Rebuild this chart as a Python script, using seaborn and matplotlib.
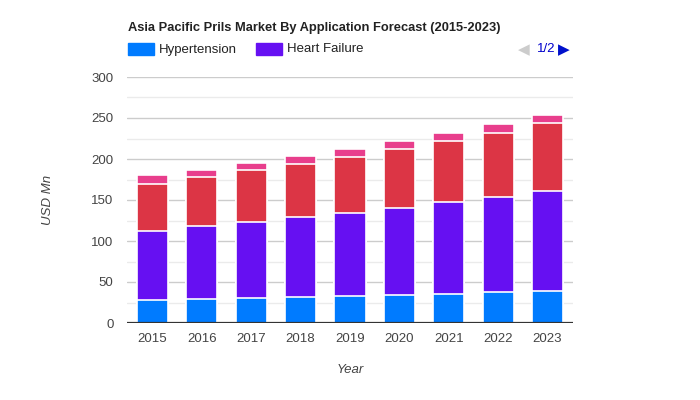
import matplotlib
matplotlib.use("Agg")
import matplotlib.pyplot as plt
import seaborn as sns
import pandas as pd
import numpy as np
from matplotlib.patches import Rectangle

years = ["2015", "2016", "2017", "2018", "2019", "2020", "2021", "2022", "2023"]
hypertension = [28.0, 29.0, 30.1, 31.3, 32.5, 33.8, 35.0, 37.4, 38.7]
heart_failure = [84.0, 89.0, 92.7, 97.6, 101.3, 106.0, 112.0, 115.9, 121.9]
series3 = [57.2, 59.8, 63.4, 64.4, 68.2, 72.0, 74.6, 79.0, 82.9]
series4 = [10.7, 9.3, 9.3, 10.7, 10.6, 10.5, 10.5, 10.7, 10.5]

series_names = ["Hypertension", "Heart Failure", "Arrhythmia", "Others"]
series_vals = [hypertension, heart_failure, series3, series4]
colors = ["#007bff", "#6610f2", "#dc3545", "#e83e8c"]

sns.set_theme(style="white")
plt.rcParams["font.family"] = ["Liberation Sans", "DejaVu Sans"]

fig = plt.figure(figsize=(7, 4), dpi=100)
ax = fig.add_axes([127.3 / 700, 77 / 400, (572.7 - 127.3) / 700, 246 / 400])

cum = np.cumsum(np.array(series_vals), axis=0)
# draw from top layer down so lower segments overlay
for i in range(len(series_names) - 1, -1, -1):
    df = pd.DataFrame({"Year": years, "Value": cum[i]})
    sns.barplot(data=df, x="Year", y="Value", color=colors[i], width=0.63,
                edgecolor="white", linewidth=1.2, saturation=1, ax=ax, zorder=3)

ax.set_xlim(-0.51, 8.51)
ax.set_ylim(0, 300)
ax.set_yticks(np.arange(0, 301, 50))
for y in np.arange(25, 300, 50):
    ax.axhline(y, color="#ebebeb", lw=1, zorder=1)
for y in np.arange(50, 301, 50):
    ax.axhline(y, color="#cccccc", lw=1, zorder=1)
ax.axhline(0, color="#333333", lw=1.6, zorder=5)

for s in ax.spines.values():
    s.set_visible(False)
ax.tick_params(axis="both", length=0, labelsize=9.5, labelcolor="#444444")
ax.tick_params(axis="y", pad=10)
ax.tick_params(axis="x", pad=7)
ax.set_xlabel("Year", fontstyle="italic", fontsize=9.5, color="#444444", labelpad=14)
ax.set_ylabel("USD Mn", fontstyle="italic", fontsize=9.5, color="#444444", labelpad=27)

# Title
fig.text(128 / 700, 1 - 27.5 / 400, "Asia Pacific Prils Market By Application Forecast (2015-2023)",
         fontsize=9.3, fontweight="bold", color="#222222", va="center", ha="left")

# Legend (page 1 of 2)
leg_y = 1 - 49.5 / 400
for x0, name, c in [(127.5, series_names[0], colors[0]), (256, series_names[1], colors[1])]:
    fig.patches.append(Rectangle((x0 / 700, 1 - 55 / 400), 26 / 700, 12 / 400,
                                 transform=fig.transFigure, color=c, figure=fig))
    fig.text((x0 + 31) / 700, leg_y, name, fontsize=9.5, color="#222222", va="center", ha="left")

fig.text(518 / 700, leg_y, "\u25c0", fontsize=11, color="#cccccc", va="center", ha="left",
         family="DejaVu Sans")
fig.text(537 / 700, leg_y, "1/2", fontsize=9.5, color="#0000cc", va="center", ha="left")
fig.text(558 / 700, leg_y, "\u25b6", fontsize=11, color="#0011cc", va="center", ha="left",
         family="DejaVu Sans")

fig.savefig("out.png", dpi=100)
